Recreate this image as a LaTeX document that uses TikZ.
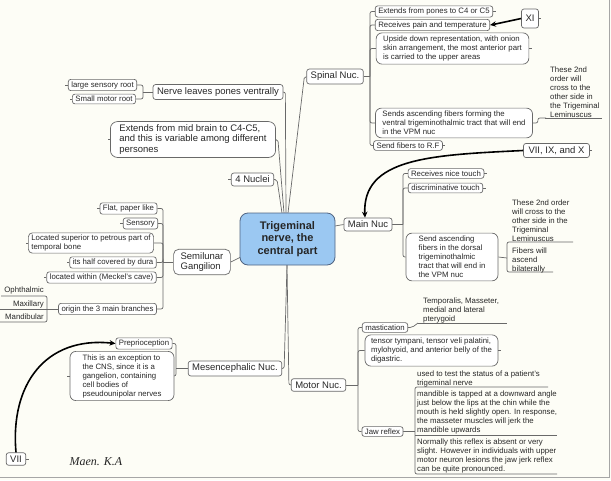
\documentclass[tikz,border=0pt]{standalone}
\usepackage{fontspec}
\setmainfont{Liberation Sans}
\newfontfamily\sigfont{Liberation Serif}
\usetikzlibrary{arrows.meta}
\definecolor{bg}{RGB}{253,253,246}
\definecolor{bord}{RGB}{105,105,105}
\definecolor{txt}{RGB}{40,40,40}
\definecolor{cblue}{RGB}{155,200,242}
\definecolor{cbord}{RGB}{80,100,130}
\pgfdeclarelayer{background}
\pgfsetlayers{background,main}
\tikzset{
 sm/.style={font=\fontsize{7.8}{9}\selectfont},
 md/.style={font=\fontsize{9.5}{10.5}\selectfont},
 box/.style={draw=bord, line width=0.7pt, fill=white, rounded corners=2.5pt, text=txt, inner xsep=3pt, inner ysep=2pt, align=left},
 mbox/.style={box, md, inner ysep=3pt, inner xsep=4pt},
 bigbox/.style={box, rounded corners=6pt, inner xsep=7pt, inner ysep=3pt},
 free/.style={text=txt, inner sep=0pt, align=left, sm},
 conn/.style={draw=bord, line width=0.7pt, rounded corners=2pt},
 ul/.style={draw=bord, line width=0.7pt},
 tarrow/.style={draw=black, line width=1.6pt, -{Stealth[length=6pt,width=5.5pt]}},
}
\begin{document}
\begin{tikzpicture}[x=1pt,y=-1pt]
\useasboundingbox (0,0) rectangle (611,480);
\begin{pgfonlayer}{background}
\fill[bg] (0,0) rectangle (611,480);
\draw[black!35, line width=1pt] (0,477) -- (609,477) -- (609,0);
\end{pgfonlayer}

% center
\node[draw=cbord, line width=0.8pt, fill=cblue, rounded corners=8pt, minimum width=95pt, minimum height=52pt, align=center, font=\fontsize{11}{12.5}\selectfont\bfseries, text=black!85] (c) at (287.5,239) {Trigeminal\\nerve, the\\central part};

% spinal nucleus
\node[mbox] (sp) at (335,76.5) {Spinal Nuc.};
\node[box, sm] (s1) at (434,11.5) {Extends from pones to C4 or C5};
\node[box, sm] (s2) at (432.5,25) {Receives pain and temperature};
\node[bigbox, sm] (s3) at (452.5,48.5) {Upside down representation, with onion\\skin arrangement, the most anterior part\\is carried to the upper areas};
\node[bigbox, sm] (s4) at (454,123) {Sends ascending fibers forming the\\ventral trigeminothalmic tract that will end\\in the VPM nuc};
\node[box, sm] (s5) at (408,145.5) {Send fibers to R.F};
\node[free, anchor=west] (s4a) at (550,92.5) {These 2nd\\order will\\cross to the\\other side in\\the Trigeminal\\Leminuscus};
\node[mbox, minimum height=19pt] (xi) at (530,18.5) {XI};
\node[mbox, inner xsep=5pt] (v9) at (556.5,150.5) {VII, IX, and X};

% main nucleus
\node[mbox] (mn) at (368,224.5) {Main Nuc};
\node[box, sm] (m1) at (446,173.5) {Receives nice touch};
\node[box, sm] (m2) at (445.5,188) {discriminative touch};
\node[bigbox, sm, minimum width=92pt, inner xsep=4pt] (m3) at (452,257) {Send ascending\\fibers in the dorsal\\trigeminothalmic\\tract that will end in\\the VPM nuc};
\node[free, anchor=west] (m3a) at (512,220.5) {These 2nd order\\will cross to the\\other side in the\\Trigeminal\\Leminuscus};
\node[free, anchor=west] (m3b) at (512,260.5) {Fibers will\\ascend\\bilaterally};

% motor nucleus
\node[mbox] (mo) at (318.5,385) {Motor Nuc.};
\node[box, sm] (ma) at (385,327.5) {mastication};
\node[free, anchor=west] (ma1) at (423,310.5) {Temporalis, Masseter,\\medial and lateral\\pterygoid};
\node[bigbox, sm, inner xsep=6pt] (ts) at (431.5,350.5) {tensor tympani, tensor veli palatini,\\mylohyoid, and anterior belly of the\\digastric.};
\node[box, sm] (jr) at (382.5,431.5) {Jaw reflex};
\node[free, anchor=west] (jr1) at (417,378.5) {used to test the status of a patient's\\trigeminal nerve};
\node[free, anchor=west] (jr2) at (417,412.5) {mandible is tapped at a downward angle\\just below the lips at the chin while the\\mouth is held slightly open. In response,\\the masseter muscles will jerk the\\mandible upwards};
\node[free, anchor=west] (jr3) at (417,456) {Normally this reflex is absent or very\\slight. However in individuals with upper\\motor neuron lesions the jaw jerk reflex\\can be quite pronounced.};

% left side
\node[mbox] (nl) at (218,92) {Nerve leaves pones ventrally};
\node[box, sm] (nl1) at (102.5,85) {large sensory root};
\node[box, sm] (nl2) at (104,99) {Small motor root};
\node[bigbox, md, inner xsep=9pt, rounded corners=7pt] (ex) at (193,139.5) {Extends from mid brain to C4-C5,\\and this is variable among different\\persones};
\node[mbox] (n4) at (252.5,179.5) {4 Nuclei};
\node[bigbox, md, inner xsep=7pt, rounded corners=5pt] (sg) at (202,262) {Semilunar\\Gangilion};
\node[box, sm] (g1) at (128.5,208.5) {Flat, paper like};
\node[box, sm] (g2) at (140.5,223.5) {Sensory};
\node[box, sm, rounded corners=4pt] (g3) at (91,243) {Located superior to petrous part of\\temporal bone};
\node[box, sm] (g4) at (113,262.5) {its half covered by dura};
\node[box, sm] (g5) at (101.5,277.5) {located within (Meckel's cave)};
\node[box, sm] (g6) at (107.5,309) {origin the 3 main branches};
\node[free, anchor=east] (b1) at (44,290.5) {Ophthalmic};
\node[free, anchor=east] (b2) at (44,304) {Maxillary};
\node[free, anchor=east] (b3) at (44,317) {Mandibular};

% mesencephalic
\node[mbox] (me) at (235,368.5) {Mesencephalic Nuc.};
\node[box, sm] (pp) at (144,343.5) {Preprioception};
\node[bigbox, sm, minimum width=104pt, inner xsep=4pt] (ex2) at (122,376) {This is an exception to\\the CNS, since it is a\\gangelion, containing\\cell bodies of\\pseudounipolar nerves};
\node[mbox] (vii) at (16,459) {VII};

\node[font=\sigfont\itshape\fontsize{12}{12}\selectfont, text=black!85] (sig) at (96,462) {Maen. K.A};

\begin{pgfonlayer}{background}
% center links
\draw[conn] (sp.west) -- ++(-2,0) -- (288,213);
\draw[conn] (nl.east) -- ++(2,0) -- (286,213);
\draw[conn] (ex.east) -- ++(2,0) -- (284,213);
\draw[conn] (n4.east) -- ++(3,0) -- (282,213);
\draw[conn] (335,226) -- (mn.west);
\draw[conn] (sg.east) -- (241,257);
\draw[conn] (me.east) -- ++(2,0) -- (287,265);
\draw[conn] (mo.west) -- ++(-2,0) -- (287,265);
% spinal
\draw[conn] (sp.east) -- (370,76.5) coordinate (spS);
\foreach \n in {s1,s2,s3,s4,s5} \draw[conn] (spS) |- (\n.west);
\draw[conn] (s4.east) -- ++(5,0) |- (546,118);
\draw[ul] (545,118) -- (602,118);
% main
\draw[conn] (mn.east) -- (403,224.5) coordinate (mnS);
\foreach \n in {m1,m2,m3} \draw[conn] (mnS) |- (\n.west);
\draw[conn] (m3.east) -- (507,258);
\draw[conn] (573,242) -- (507,242) -- (507,272) -- (553,272);
% motor
\draw[conn] (mo.east) -- (358,385) coordinate (moS);
\foreach \n in {ma,ts,jr} \draw[conn] (moS) |- (\n.west);
\draw[conn] (ma.east) -- ++(4,0) -- (418,323);
\draw[ul] (418,323) -- (507,323);
\draw[conn] (jr.east) -- (415,431.5);
\draw[conn] (548,387) -- (415,387) -- (415,474) -- (557,474);
\draw[ul] (415,435) -- (557,435);
% left
\draw[conn] (nl.west) -- (143,92) coordinate (nlS);
\foreach \n in {nl1,nl2} \draw[conn] (nlS) |- (\n.east);
\draw[conn] (sg.west) -- (163,262) coordinate (sgS);
\foreach \n in {g1,g2,g3,g4,g5,g6} \draw[conn] (sgS) |- (\n.east);
\draw[conn] (g6.west) -- (47,309);
\draw[conn] (1,296) -- (47,296) -- (47,322) -- (0,322);
\draw[ul] (0,309) -- (47,309);
\draw[conn] (me.west) -- (176,368.5) coordinate (meS);
\foreach \n in {pp,ex2} \draw[conn] (meS) |- (\n.east);
% ticks
\foreach \n in {s1,s3,s5,m1,m2,ts,xi,v9,vii} \draw[ul] (\n.east) -- ++(2.5,0);
\foreach \n in {g1,g2,g3,g4,g5,nl1,nl2,ex,n4,ex2} \draw[ul] (\n.west) -- ++(-2.5,0);
\end{pgfonlayer}

% thick arrows
\draw[tarrow] (xi.west) .. controls (508,22) .. (s2.east);
\draw[tarrow] (v9.west) .. controls (430,155) and (362,158) .. ([xshift=-3pt]mn.north);
\draw[tarrow] (vii.north) .. controls (10,385) and (45,336) .. (pp.west);
\end{tikzpicture}
\end{document}
